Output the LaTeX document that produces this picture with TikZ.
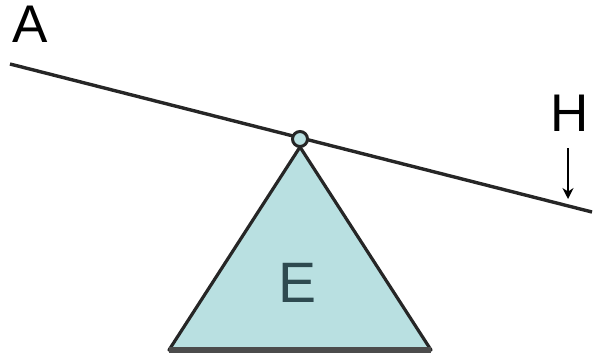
\documentclass[tikz,border=0pt]{standalone}
\usepackage{fontspec}
\setmainfont{Liberation Sans}
\usetikzlibrary{arrows.meta}
\definecolor{supporto}{HTML}{B9E0E1}
\definecolor{testo}{HTML}{2E4A50}
\begin{document}
\begin{tikzpicture}[x=1pt,y=-1pt,font=\sffamily]

        % Stili globali
        \tikzset{leva/.style={line width=3.4pt, draw=black!85},
                 etichetta/.style={font=\fontsize{53}{53}\selectfont, inner sep=0pt}}

        % Margini della figura
        \useasboundingbox (0,0) rectangle (593,357);

        % Estremi della leva
        \coordinate (estremoA) at (10,64);
        \coordinate (estremoH) at (592,212);

        % Fulcro (triangolo)
        \coordinate (vertice) at (300,147);
        \coordinate (baseSx) at (169,350);
        \coordinate (baseDx) at (431,350);
        \filldraw[leva, line width=3.2pt, fill=supporto, line join=round] (baseSx) -- (vertice) -- (baseDx) -- cycle;
        \draw[line width=6pt, draw=black!70] (baseSx) -- (baseDx);

        % Leva
        \draw[leva] (estremoA) -- (estremoH);

        % Perno
        \node[circle, draw=black!85, fill=supporto, line width=3pt, minimum size=15pt, inner sep=0pt] (perno) at (300,139) {};

        % Etichette
        \node[etichetta] (A) at (30,24) {A};
        \node[etichetta] (H) at (570,113) {H};
        \node[etichetta, text=testo, font=\fontsize{57}{57}\selectfont] (E) at (298,283) {E};

        % Freccia verso la leva
        \coordinate (inizioH) at (568,148);
        \coordinate (fineH) at (568,199);
        \draw[line width=2.4pt, -{Stealth[length=11pt,width=11pt]}] (inizioH) -- (fineH);

    \end{tikzpicture}
\end{document}
